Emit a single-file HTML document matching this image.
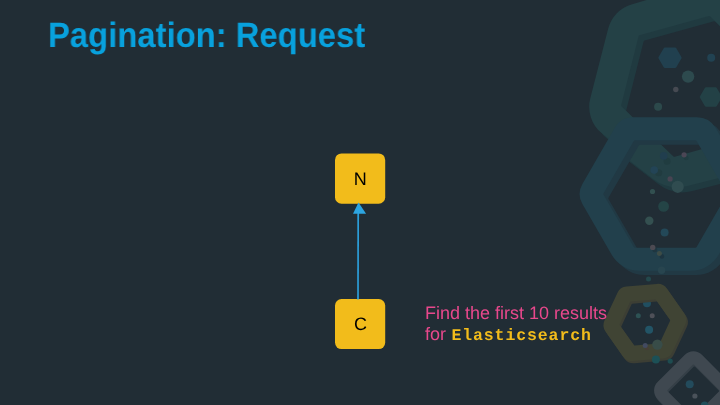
<!DOCTYPE html>
<html>
<head>
<meta charset="utf-8">
<title>Pagination: Request</title>
<style>
html, body { margin:0; padding:0; }
body { text-rendering:geometricPrecision; -webkit-font-smoothing:antialiased; width:720px; height:405px; overflow:hidden; background:#212d35; position:relative; font-family:"Liberation Sans", sans-serif; }
.deco { position:absolute; left:0; top:0; }
.title { position:absolute; left:48px; top:16px; margin:0; font-family:"Liberation Sans", sans-serif; font-weight:bold; font-size:35px; line-height:40px; color:#08a1dd; white-space:nowrap; transform-origin:0 0; transform:scale(0.9374,1.007); }
.note { position:absolute; left:424.6px; top:302.7px; color:#e8488c; font-size:18px; line-height:21px; white-space:nowrap; }
.note b { font-family:"Liberation Mono", monospace; font-weight:bold; color:#f2bc1b; font-size:16.5px; letter-spacing:0.9px; margin-left:0.4px; }
.arrow { position:absolute; left:0; top:0; will-change:transform; }
.title, .note { will-change:transform; }
</style>
</head>
<body>
<svg class="deco" width="720" height="405" viewBox="0 0 720 405">
<path d="M608.2,28.6 A34.0,34.0 0 0 1 631.4,4.5 L716.6,-20.8 A34.0,34.0 0 0 1 748.0,-14.4 L806.2,34.1 A34.0,34.0 0 0 1 817.3,69.1 L798.2,139.9 A34.0,34.0 0 0 1 773.7,164.0 L687.4,185.9 A40.0,40.0 0 0 1 653.2,178.9 L618.0,151.8 L611.0,140.9 L601.3,132.8 A34.0,34.0 0 0 1 590.3,98.3 Z M621.2,105.2 A1.5,1.5 0 0 0 621.6,106.6 L673.4,156.4 A1.5,1.5 0 0 0 674.8,156.8 L743.0,137.5 A1.5,1.5 0 0 0 744.0,136.4 L760.4,67.4 A1.5,1.5 0 0 0 760.0,66.0 L710.4,16.5 A1.5,1.5 0 0 0 709.0,16.1 L639.6,35.3 A1.5,1.5 0 0 0 638.6,36.3 Z" fill="#203a40" fill-rule="evenodd" transform="translate(5,5.2)"/>
<path d="M608.2,28.6 A34.0,34.0 0 0 1 631.4,4.5 L716.6,-20.8 A34.0,34.0 0 0 1 748.0,-14.4 L806.2,34.1 A34.0,34.0 0 0 1 817.3,69.1 L798.2,139.9 A34.0,34.0 0 0 1 773.7,164.0 L687.4,185.9 A40.0,40.0 0 0 1 653.2,178.9 L618.0,151.8 L611.0,140.9 L601.3,132.8 A34.0,34.0 0 0 1 590.3,98.3 Z M621.2,105.2 A1.5,1.5 0 0 0 621.6,106.6 L673.4,156.4 A1.5,1.5 0 0 0 674.8,156.8 L743.0,137.5 A1.5,1.5 0 0 0 744.0,136.4 L760.4,67.4 A1.5,1.5 0 0 0 760.0,66.0 L710.4,16.5 A1.5,1.5 0 0 0 709.0,16.1 L639.6,35.3 A1.5,1.5 0 0 0 638.6,36.3 Z" fill="#244146" fill-rule="evenodd"/>
<path d="M681.4,57.0 A1.5,1.5 0 0 1 681.4,58.5 L676.3,67.3 A1.5,1.5 0 0 1 675.0,68.0 L665.0,68.0 A1.5,1.5 0 0 1 663.7,67.3 L658.6,58.5 A1.5,1.5 0 0 1 658.6,57.0 L663.7,48.3 A1.5,1.5 0 0 1 665.0,47.6 L675.0,47.6 A1.5,1.5 0 0 1 676.3,48.3 Z" fill="#21404f"/>
<path d="M721.6,96.2 A1.5,1.5 0 0 1 721.6,97.8 L716.8,105.9 A1.5,1.5 0 0 1 715.5,106.7 L706.1,106.7 A1.5,1.5 0 0 1 704.8,105.9 L700.0,97.8 A1.5,1.5 0 0 1 700.0,96.2 L704.8,88.1 A1.5,1.5 0 0 1 706.1,87.3 L715.5,87.3 A1.5,1.5 0 0 1 716.8,88.1 Z" fill="#234146"/>
<path d="M746.9,182.0 A24.0,24.0 0 0 1 746.9,206.0 L718.7,254.7 A32.0,32.0 0 0 1 691.0,270.7 L639.4,270.7 A32.0,32.0 0 0 1 611.7,254.7 L582.4,204.0 A20.0,20.0 0 0 1 582.4,184.0 L615.1,127.3 A20.0,20.0 0 0 1 632.4,117.3 L696.8,117.3 A22.0,22.0 0 0 1 715.9,128.3 Z M696.6,141.1 A1.5,1.5 0 0 0 695.3,140.3 L635.1,140.3 A1.5,1.5 0 0 0 633.8,141.1 L603.6,193.2 A1.5,1.5 0 0 0 603.6,194.8 L633.8,246.9 A1.5,1.5 0 0 0 635.1,247.7 L695.3,247.7 A1.5,1.5 0 0 0 696.6,246.9 L726.8,194.8 A1.5,1.5 0 0 0 726.8,193.2 Z" fill="#213944" fill-rule="evenodd" transform="translate(5,4.4)"/>
<path d="M746.9,182.0 A24.0,24.0 0 0 1 746.9,206.0 L718.7,254.7 A32.0,32.0 0 0 1 691.0,270.7 L639.4,270.7 A32.0,32.0 0 0 1 611.7,254.7 L582.4,204.0 A20.0,20.0 0 0 1 582.4,184.0 L615.1,127.3 A20.0,20.0 0 0 1 632.4,117.3 L696.8,117.3 A22.0,22.0 0 0 1 715.9,128.3 Z M696.6,141.1 A1.5,1.5 0 0 0 695.3,140.3 L635.1,140.3 A1.5,1.5 0 0 0 633.8,141.1 L603.6,193.2 A1.5,1.5 0 0 0 603.6,194.8 L633.8,246.9 A1.5,1.5 0 0 0 635.1,247.7 L695.3,247.7 A1.5,1.5 0 0 0 696.6,246.9 L726.8,194.8 A1.5,1.5 0 0 0 726.8,193.2 Z" fill="#22404c" fill-rule="evenodd"/>
<circle cx="647" cy="303.3" r="4" fill="#204e60"/>
<path d="M684.3,313.5 A11.0,11.0 0 0 1 685.3,324.5 L672.4,352.1 A11.0,11.0 0 0 1 663.4,358.4 L633.0,361.1 A11.0,11.0 0 0 1 623.0,356.5 L605.5,331.5 A11.0,11.0 0 0 1 604.5,320.5 L617.4,292.9 A11.0,11.0 0 0 1 626.4,286.6 L656.8,283.9 A11.0,11.0 0 0 1 666.8,288.5 Z M656.0,299.9 A1.0,1.0 0 0 0 655.1,299.4 L630.8,301.6 A1.0,1.0 0 0 0 630.0,302.1 L619.7,324.2 A1.0,1.0 0 0 0 619.8,325.2 L633.8,345.1 A1.0,1.0 0 0 0 634.7,345.6 L659.0,343.4 A1.0,1.0 0 0 0 659.8,342.9 L670.1,320.8 A1.0,1.0 0 0 0 670.0,319.8 Z" fill="#3c3e34" fill-rule="evenodd" transform="translate(1.6,2.2)"/>
<path d="M684.3,313.5 A11.0,11.0 0 0 1 685.3,324.5 L672.4,352.1 A11.0,11.0 0 0 1 663.4,358.4 L633.0,361.1 A11.0,11.0 0 0 1 623.0,356.5 L605.5,331.5 A11.0,11.0 0 0 1 604.5,320.5 L617.4,292.9 A11.0,11.0 0 0 1 626.4,286.6 L656.8,283.9 A11.0,11.0 0 0 1 666.8,288.5 Z M656.0,299.9 A1.0,1.0 0 0 0 655.1,299.4 L630.8,301.6 A1.0,1.0 0 0 0 630.0,302.1 L619.7,324.2 A1.0,1.0 0 0 0 619.8,325.2 L633.8,345.1 A1.0,1.0 0 0 0 634.7,345.6 L659.0,343.4 A1.0,1.0 0 0 0 659.8,342.9 L670.1,320.8 A1.0,1.0 0 0 0 670.0,319.8 Z" fill="#404434" fill-rule="evenodd"/>
<path d="M729.2,382.1 A12.0,12.0 0 0 1 729.2,399.1 L701.9,426.4 A12.0,12.0 0 0 1 684.9,426.4 L657.6,399.1 A12.0,12.0 0 0 1 657.6,382.1 L684.9,354.8 A12.0,12.0 0 0 1 701.9,354.8 Z M694.1,364.8 A1.0,1.0 0 0 0 692.7,364.8 L667.6,389.9 A1.0,1.0 0 0 0 667.6,391.3 L692.7,416.4 A1.0,1.0 0 0 0 694.1,416.4 L719.2,391.3 A1.0,1.0 0 0 0 719.2,389.9 Z" fill="#353f47" fill-rule="evenodd" transform="translate(1,2)"/>
<path d="M729.2,382.1 A12.0,12.0 0 0 1 729.2,399.1 L701.9,426.4 A12.0,12.0 0 0 1 684.9,426.4 L657.6,399.1 A12.0,12.0 0 0 1 657.6,382.1 L684.9,354.8 A12.0,12.0 0 0 1 701.9,354.8 Z M694.1,364.8 A1.0,1.0 0 0 0 692.7,364.8 L667.6,389.9 A1.0,1.0 0 0 0 667.6,391.3 L692.7,416.4 A1.0,1.0 0 0 0 694.1,416.4 L719.2,391.3 A1.0,1.0 0 0 0 719.2,389.9 Z" fill="#3f4850" fill-rule="evenodd"/>
<circle cx="711.2" cy="57.8" r="4" fill="#214252"/>
<circle cx="688.1" cy="76.6" r="6.2" fill="#2d4a4e"/>
<circle cx="675.8" cy="89.5" r="2.7" fill="#464a52"/>
<circle cx="658.1" cy="106.7" r="4" fill="#2c494b"/>
<circle cx="686.1" cy="157.9" r="2.4" fill="#213c41"/>
<circle cx="684.1" cy="154.8" r="2.6" fill="#4b4655"/>
<circle cx="667.1" cy="161.3" r="3.5" fill="#203c40"/>
<circle cx="663.7" cy="155.9" r="3.8" fill="#213e4e"/>
<circle cx="658.7" cy="172.8" r="3.5" fill="#213c40"/>
<circle cx="654.2" cy="170.1" r="3.8" fill="#234456"/>
<circle cx="670.1" cy="178.9" r="2.6" fill="#484452"/>
<circle cx="677.7" cy="186.8" r="6.1" fill="#304c50"/>
<circle cx="652.5" cy="191.5" r="2.6" fill="#325050"/>
<circle cx="663.6" cy="206.4" r="5.4" fill="#244446"/>
<circle cx="649.3" cy="220.7" r="4.2" fill="#345050"/>
<circle cx="664.6" cy="232.4" r="4" fill="#234858"/>
<circle cx="654.8" cy="249.8" r="2.5" fill="#1f3640"/>
<circle cx="652.7" cy="247.4" r="2.7" fill="#4c4a52"/>
<circle cx="661.9" cy="256.4" r="2.3" fill="#1d3440"/>
<circle cx="659.4" cy="253.4" r="2.5" fill="#3e4c46"/>
<circle cx="661.6" cy="270.2" r="3.7" fill="#28454f"/>
<circle cx="648.5" cy="279.1" r="2.5" fill="#23484c"/>
<circle cx="638.3" cy="315.7" r="2.5" fill="#2d5254"/>
<circle cx="652.2" cy="315.7" r="2.5" fill="#4e5058"/>
<circle cx="649.1" cy="329.8" r="4" fill="#225466"/>
<circle cx="657.4" cy="344.6" r="5.2" fill="#384c48"/>
<circle cx="647.0" cy="348.3" r="2.0" fill="#463e36"/>
<circle cx="645.2" cy="345.4" r="2.5" fill="#424a60"/>
<circle cx="655.9" cy="359.4" r="4" fill="#1c5056"/>
<circle cx="670.2" cy="361.1" r="2.6" fill="#1e4c50"/>
<circle cx="689.7" cy="384.2" r="4" fill="#234b5c"/>
<circle cx="694.9" cy="396" r="2.6" fill="#4a525a"/>
<circle cx="704.6" cy="405.3" r="3.8" fill="#214e5a"/>
</svg>
<h1 class="title">Pagination: Request</h1>
<svg class="arrow" width="720" height="405" viewBox="0 0 720 405">
<rect x="335" y="153.4" width="50.2" height="50.3" rx="6.5" ry="6.5" fill="#f2bc1b"/>
<rect x="335" y="299" width="50.2" height="50.1" rx="6.5" ry="6.5" fill="#f2bc1b"/>
<line x1="358" y1="299.5" x2="358.2" y2="213" stroke="#2b9dd8" stroke-width="1.7"/>
<path d="M358.5,202.4 L366.1,213.7 L353,213.7 Z" fill="#2da5e1"/>
<text x="360.35" y="184.7" text-anchor="middle" font-family="Liberation Sans, sans-serif" font-size="18" fill="#000">N</text>
<text x="360.55" y="329.6" text-anchor="middle" font-family="Liberation Sans, sans-serif" font-size="18" fill="#000">C</text>
</svg>
<div class="note">Find the first 10 results<br>for <b>Elasticsearch</b></div>
</body>
</html>
